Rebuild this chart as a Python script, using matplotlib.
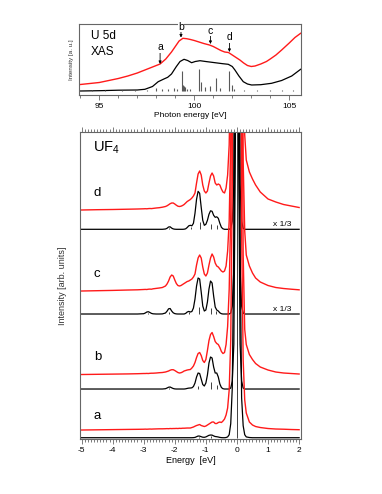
import matplotlib
matplotlib.use("Agg")
import matplotlib.pyplot as plt
from matplotlib.ticker import MultipleLocator, FixedLocator
import numpy as np

plt.rcParams['font.family'] = ['Liberation Sans', 'DejaVu Sans']
plt.rcParams['mathtext.default'] = 'regular'
plt.rcParams['axes.unicode_minus'] = False

# ---------------- top panel: U 5d XAS ----------------
xas_exp_E = [94.0, 94.5, 95.0, 95.5, 96.0, 96.5, 97.0, 97.4, 97.8, 98.2, 98.5, 98.8,
             99.0, 99.2, 99.4, 99.6, 99.8, 100.0, 100.2, 100.5, 100.8, 101.0, 101.2,
             101.4, 101.6, 101.8, 102.0, 102.2, 102.4, 102.6, 102.8, 103.0, 103.2,
             103.5, 103.8, 104.0, 104.3, 104.6, 105.0, 105.3, 105.6]
xas_exp_I = [10.5, 11.5, 12.5, 14.5, 16.5, 19, 22, 25, 28, 31, 36, 43,
             48.5, 54, 56.7, 56.3, 55.5, 54.5, 53.3, 51.5, 50, 48.5, 46.5,
             44.5, 43, 42.5, 40, 37.5, 35, 32, 29.5, 28.5, 29,
             31, 33.5, 36, 40, 45, 52, 57.5, 61.7]
xas_calc_E = [94.0, 95.0, 96.0, 97.0, 97.4, 97.8, 98.1, 98.4, 98.6, 98.8, 99.05, 99.25,
              99.46, 99.65, 99.86, 100.05, 100.3, 100.6, 101.09, 101.5, 101.79, 102.0,
              102.14, 102.35, 102.58, 102.8, 103.02, 103.5, 104.07, 104.6, 105.13, 105.6]
xas_calc_I = [4, 4.3, 4.8, 5.0, 5.7, 8.5, 13.3, 16, 17.7, 21, 28.3, 33.5,
              35.7, 34.5, 32.3, 33.5, 34.3, 33.5, 32.3, 31.3, 30.7, 28.5,
              25, 19, 13.3, 11, 10, 10.3, 11.7, 14.5, 19, 25.7]
xas_stick_E = [94.6, 95.3, 96.2, 96.9, 97.5, 97.98, 98.3, 98.6, 98.93, 99.1, 99.34, 99.42,
               99.47, 99.52, 99.6, 99.8, 100.26, 100.33, 100.54, 100.83, 101.14, 101.35,
               101.85, 101.97, 102.1, 102.6, 103.3, 104.0, 104.6, 105.2]
xas_stick_h = [0.8, 0.8, 0.8, 0.8, 1, 3, 2, 1.5, 3, 2, 20.5, 6,
               5, 4, 2, 2, 22.5, 9, 4, 5, 12.5, 3,
               20.5, 6, 2, 0.8, 0.8, 0.8, 0.8, 0.8]
xas_stick_base = 4
xas_marks = ['a', 'b', 'c', 'd']
xas_mark_E = [98.2, 99.3, 100.85, 101.85]
xas_mark_text_y = [47.7, 68.3, 64.3, 57.7]
xas_mark_tip_y = [31, 57.5, 51, 43]

# ---------------- bottom panel: RIXS of UF4 ----------------
energy = [-5.0, -4.5, -4.0, -3.5, -3.2, -3.0, -2.95, -2.9, -2.85, -2.8, -2.75, -2.7,
          -2.6, -2.5, -2.4, -2.3, -2.25, -2.2, -2.15, -2.1, -2.05, -2.0,
          -1.95, -1.9, -1.85, -1.8, -1.75, -1.7, -1.65, -1.6, -1.55, -1.5,
          -1.45, -1.4, -1.35, -1.3, -1.25, -1.2, -1.15, -1.1, -1.05, -1.0,
          -0.95, -0.9, -0.85, -0.8, -0.75, -0.7, -0.65, -0.6, -0.55, -0.5,
          -0.45, -0.4, -0.35, -0.3, -0.25, -0.2, -0.15, -0.1, -0.05, 0.0,
          0.05, 0.1, 0.15, 0.2, 0.25, 0.3, 0.4, 0.5, 0.6, 0.75,
          1.0, 1.25, 1.5, 1.75, 2.0]

d_exp = [0, 0.3, 0.5, 0.8, 1.0, 1.2, 1.3, 1.2, 1.4, 1.5, 1.4, 1.6,
         2.0, 2.3, 2.8, 3.5, 4.2, 5.2, 6.3, 7.0, 7.0, 6.0,
         4.8, 3.8, 3.5, 3.8, 4.5, 5.5, 7.0, 8.5, 9.5, 10.5,
         12, 14, 17, 27, 36, 39, 35, 25, 19, 17,
         19, 27, 34, 37, 34, 27, 25, 26, 25, 21,
         18, 17, 22, 35, 65, 150, 400, 900, 1500, 2000,
         1500, 900, 400, 130, 75, 50, 38, 31, 25, 18,
         11, 8, 5.5, 4, 2.5]
d_calc = [0, 0, 0, 0, 0, 0, 0, 0, 0, 0, 0, 0,
          0, 0, 0, 0.3, 1.0, 2.3, 2.5, 1.2, 0.4, 0.1,
          0, 0, 0, 0, 0, 0.1, 0.5, 1.8, 3.5, 4.0,
          3.5, 6, 16, 30, 38, 36, 22, 9, 4, 5,
          9, 15, 18.5, 18, 14, 12, 12.5, 11, 6, 2,
          0.5, 0, 0, 0, 0, 1, 8, 45, 250, 800,
          250, 45, 8, 1, 0, 0, 0, 0, 0, 0,
          0, 0, 0, 0, 0]
c_exp = [0, 0.3, 0.6, 1.0, 1.2, 1.5, 1.6, 1.5, 1.8, 1.9, 1.8, 2.2,
         2.6, 3.0, 3.5, 5.0, 7.0, 10, 14, 16, 15, 11,
         7.5, 5.5, 5.0, 5.5, 6.5, 7.5, 8.5, 9.5, 10, 11,
         12, 14, 17, 26, 33, 36, 33, 24, 17, 15,
         18, 26, 33, 37, 34, 28, 25, 24, 22, 20,
         19, 20, 25, 40, 70, 150, 400, 900, 1500, 2000,
         1500, 900, 400, 130, 60, 36, 25, 18, 13, 9,
         5.5, 3.5, 2.5, 1.8, 1.2]
c_calc = [0, 0, 0, 0, 0, 0.3, 1.0, 2.0, 2.3, 1.5, 0.6, 0.2,
          0, 0, 0.1, 1.0, 2.8, 5.2, 5.5, 3.0, 1.2, 0.4,
          0.1, 0, 0, 0, 0, 0, 0.6, 2.0, 2.6, 2.0,
          2.5, 6, 15, 28, 36, 35, 22, 8, 3, 4,
          12, 25, 33, 31, 18, 7, 4, 3, 1.2, 0.3,
          0, 0, 0, 0, 0, 1, 8, 45, 250, 800,
          250, 45, 8, 1, 0, 0, 0, 0, 0, 0,
          0, 0, 0, 0, 0]
b_exp = [0, 0.2, 0.4, 0.6, 0.8, 1.0, 1.0, 1.1, 1.0, 1.2, 1.3, 1.3,
         1.5, 1.8, 2.0, 2.5, 3.0, 3.5, 4.3, 4.8, 4.8, 4.0,
         3.0, 2.0, 1.5, 1.8, 2.5, 3.5, 4.0, 4.5, 4.8, 5.0,
         6.5, 8.5, 12, 17, 21, 22, 19, 14, 12, 15,
         24, 34, 40, 42, 38, 33, 31, 30, 27, 23,
         21, 22, 30, 48, 85, 160, 400, 900, 1500, 2000,
         1500, 900, 400, 120, 45, 30, 20, 15, 11, 7.5,
         4.5, 2.5, 1.5, 1.0, 0.5]
b_calc = [0, 0, 0, 0, 0, 0, 0, 0, 0, 0, 0, 0,
          0, 0, 0, 0.3, 1.0, 1.8, 2.0, 1.2, 0.5, 0.1,
          0, 0, 0, 0, 0, 0, 0.2, 0.6, 0.9, 1.0,
          1.2, 2.5, 6, 12, 16, 15.5, 10, 4.5, 3, 6,
          14, 26, 32, 31, 22, 16, 16, 12, 5, 1.5,
          0.3, 0, 0, 0, 0, 1, 8, 45, 250, 800,
          250, 45, 8, 1, 0, 0, 0, 0, 0, 0,
          0, 0, 0, 0, 0]
a_exp = [0, 0.2, 0.4, 0.6, 0.7, 0.8, 0.9, 0.8, 0.9, 1.0, 0.9, 1.0,
         1.1, 1.2, 1.2, 1.3, 1.4, 1.3, 1.5, 1.4, 1.5, 1.5,
         1.6, 1.5, 1.7, 1.6, 1.8, 1.8, 1.9, 2.0, 2.0, 2.0,
         2.5, 3.0, 3.8, 4.5, 5.0, 5.5, 4.5, 4.0, 3.5, 4.0,
         5.0, 6.0, 7.0, 8.0, 8.0, 6.5, 6.5, 7.5, 8.0, 7.5,
         9, 11, 15, 22, 40, 90, 250, 800, 1500, 2000,
         1500, 800, 200, 70, 30, 17, 8, 5, 3.5, 2.5,
         1.5, 1.0, 0.8, 0.5, 0.3]
a_calc = [0, 0, 0, 0, 0, 0, 0, 0, 0, 0, 0, 0,
          0, 0, 0, 0, 0, 0, 0, 0, 0, 0,
          0, 0, 0, 0, 0, 0, 0, 0, 0, 0,
          0, 0.1, 0.3, 1.0, 1.7, 1.6, 1.0, 0.5, 0.4, 0.8,
          1.6, 2.4, 2.7, 2.6, 1.8, 1.2, 1.0, 0.7, 0.3, 0.1,
          0, 0, 0.2, 0.8, 3, 14, 50, 200, 800, 3000,
          800, 200, 40, 12, 3, 0.8, 0.2, 0, 0, 0,
          0, 0, 0, 0, 0]

labels = ['d', 'c', 'b', 'a']
exp_curves = [d_exp, c_exp, b_exp, a_exp]
calc_curves = [d_calc, c_calc, b_calc, a_calc]
exp_offset = [229, 148, 64.5, 9]
calc_offset = [209.7, 125, 50, 1.3]
label_y = [246, 165, 82, 23]
scale_note = ['x 1/3', 'x 1/3', '', '']

stick_E = [[-2.2, -1.47, -1.2, -0.82, -0.65, 0.0],
           [-2.87, -2.2, -1.55, -1.22, -0.84, -0.67, 0.0],
           [-2.2, -1.25, -0.83, -0.65, 0.0],
           [-1.22, -0.82, 0.0]]
stick_h = [[1.5, 2, 7, 5, 4, 1000],
           [1.5, 2.5, 2, 7, 6, 3, 1000],
           [1.5, 3, 7, 4, 1000],
           [1, 1.5, 1000]]

red = '#ff1a1a'
spine_col = '0.4'

fig = plt.figure(figsize=(3.82, 4.94), dpi=100)

# ---- top panel ----
ax1 = fig.add_axes([0.2068, 0.8077, 0.5812, 0.1437])
ax1.plot(xas_exp_E, xas_exp_I, color=red, lw=1.0)
ax1.plot(xas_calc_E, xas_calc_I, color='k', lw=0.9)
ax1.vlines(xas_stick_E, xas_stick_base, np.array(xas_stick_h) + xas_stick_base,
           color='0.35', lw=0.8)
ax1.set_xlim(93.93, 105.62)
ax1.set_ylim(0, 71)
ax1.set_yticks([])
ax1.xaxis.set_major_locator(FixedLocator([95, 100, 105]))
ax1.xaxis.set_minor_locator(MultipleLocator(1))
ax1.tick_params(axis='x', which='both', direction='out', labelsize=6,
                color=spine_col, width=0.6, pad=2)
ax1.tick_params(axis='x', which='major', length=3.5)
ax1.tick_params(axis='x', which='minor', length=2)
ax1.set_xlabel('Photon energy [eV]', fontsize=6, labelpad=1.5)
ax1.text(0.053, 0.83, 'U 5d', transform=ax1.transAxes, fontsize=8.5, va='center')
ax1.text(0.053, 0.61, 'XAS', transform=ax1.transAxes, fontsize=8.5, va='center')
for lab, x, ty, tip in zip(xas_marks, xas_mark_E, xas_mark_text_y, xas_mark_tip_y):
    ax1.text(x, ty, lab, fontsize=7.5, ha='center', va='center', zorder=5,
             bbox=dict(facecolor='white', edgecolor='none', pad=0.3), clip_on=False)
    ax1.annotate('', xy=(x, tip), xytext=(x, ty - 4.5),
                 arrowprops=dict(arrowstyle='-|>', lw=0.6, color='k',
                                 mutation_scale=4, shrinkA=0, shrinkB=0))
for s in ax1.spines.values():
    s.set_color(spine_col)
    s.set_linewidth(0.8)
fig.text(0.188, 0.88, 'Intensity [a. u.]', rotation=90, fontsize=4.5,
         ha='center', va='center', color='0.2')

# ---- bottom panel ----
ax2 = fig.add_axes([0.2094, 0.1113, 0.5785, 0.6215])
for i in range(4):
    ax2.plot(energy, np.array(calc_curves[i]) + calc_offset[i], color='k', lw=0.9)
    ax2.vlines(stick_E[i], calc_offset[i], np.array(stick_h[i]) + calc_offset[i],
               color='0.25', lw=0.7)
    ax2.plot(energy, np.array(exp_curves[i]) + exp_offset[i], color=red, lw=1.0)
    ax2.text(-4.6, label_y[i], labels[i], fontsize=9.5, va='center', ha='left')
    if scale_note[i]:
        ax2.text(1.45, calc_offset[i] + 1.5, scale_note[i], fontsize=6,
                 ha='center', va='bottom')
ax2.text(-4.63, 291, 'UF$_4$', fontsize=10.5, va='center', ha='left')
ax2.set_xlim(-5.05, 2.06)
ax2.set_ylim(0, 307)
ax2.set_yticks([])
ax2.xaxis.set_major_locator(MultipleLocator(1))
ax2.xaxis.set_minor_locator(MultipleLocator(0.1))
ax2.tick_params(axis='x', which='both', direction='out', top=True, labelsize=6,
                color=spine_col, width=0.6, pad=2)
ax2.tick_params(axis='x', which='major', length=3.5)
ax2.tick_params(axis='x', which='minor', length=2)
ax2.set_xlabel('Energy  [eV]', fontsize=6.5, labelpad=1.5)
for s in ax2.spines.values():
    s.set_color(spine_col)
    s.set_linewidth(0.8)
fig.text(0.163, 0.422, 'Intensity [arb. units]', rotation=90, fontsize=6.5,
         ha='center', va='center', color='0.2')

fig.savefig('out.png', dpi=100)
